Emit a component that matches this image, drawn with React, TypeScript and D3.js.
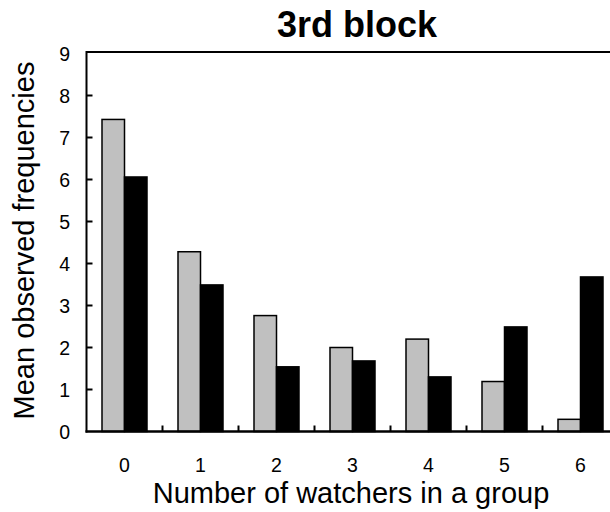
import React from "react";
import * as d3 from "d3";

const categories = ["0", "1", "2", "3", "4", "5", "6"];
const seriesNames = ["gray", "black"];
const grayValues = [7.43, 4.28, 2.76, 2.0, 2.2, 1.19, 0.29];
const blackValues = [6.06, 3.49, 1.54, 1.68, 1.3, 2.49, 3.68];
const yTicks = [0, 1, 2, 3, 4, 5, 6, 7, 8, 9];
const title = "3rd block";
const xLabel = "Number of watchers in a group";
const yLabel = "Mean observed frequencies";

const W = 610;
const H = 512;
const left = 86.5;
const top = 53.5;
const bottom = 431.5;
const groupW = 76;
const font = "'Liberation Sans', Arial, Helvetica, sans-serif";

export default function App() {
  const x = d3
    .scaleBand<string>()
    .domain(categories)
    .range([left, left + groupW * categories.length])
    .padding(0);
  const x1 = d3.scaleBand<string>().domain(seriesNames).range([15.5, 60.5]).padding(0);
  const y = d3.scaleLinear().domain([0, 9]).range([bottom, top]);
  const colors: Record<string, string> = { gray: "#c0c0c0", black: "#000000" };
  const data = categories.map((c, i) => ({ c, gray: grayValues[i], black: blackValues[i] }));

  return (
    <svg width={W} height={H} style={{ position: "absolute", left: 0, top: 0 }}>
      <rect x={0} y={0} width={W} height={H} fill="#fff" />
      {data.map((d) =>
        seriesNames.map((s) => {
          const v = (d as any)[s] as number;
          return (
            <rect
              key={d.c + s}
              x={(x(d.c) as number) + (x1(s) as number)}
              y={y(v)}
              width={x1.bandwidth()}
              height={y(0) - y(v)}
              fill={colors[s]}
              stroke="#000"
              strokeWidth={1.5}
            />
          );
        })
      )}
      {/* frame */}
      <line x1={left} x2={W} y1={52} y2={52} stroke="#000" strokeWidth={2} />
      <line x1={left} x2={left} y1={51} y2={bottom + 1} stroke="#000" strokeWidth={2} />
      <line x1={left - 1} x2={W} y1={bottom} y2={bottom} stroke="#000" strokeWidth={2.5} />
      {/* y ticks */}
      {yTicks.map((t) => (
        <g key={t}>
          {t > 0 && t < 9 && (
            <line x1={left} x2={left + 6} y1={y(t)} y2={y(t)} stroke="#000" strokeWidth={2} />
          )}
          <text
            x={70}
            y={y(t)}
            dy="0.36em"
            textAnchor="end"
            fontFamily={font}
            fontSize={19.5}
            fill="#000"
          >
            {t}
          </text>
        </g>
      ))}
      {/* x ticks between groups */}
      {categories.slice(1).map((c) => (
        <line
          key={"xt" + c}
          x1={x(c) as number}
          x2={x(c) as number}
          y1={bottom}
          y2={bottom - 6}
          stroke="#000"
          strokeWidth={2}
        />
      ))}
      {categories.map((c) => (
        <text
          key={"xl" + c}
          x={(x(c) as number) + x.bandwidth() / 2}
          y={471.5}
          textAnchor="middle"
          fontFamily={font}
          fontSize={19.5}
          fill="#000"
        >
          {c}
        </text>
      ))}
      <text
        x={357}
        y={37}
        textAnchor="middle"
        fontFamily={font}
        fontSize={36}
        fontWeight="bold"
        fill="#000"
      >
        {title}
      </text>
      <text
        x={351}
        y={502.5}
        textAnchor="middle"
        fontFamily={font}
        fontSize={29}
        fill="#000"
      >
        {xLabel}
      </text>
      <text
        transform={`translate(33.5,240.5) rotate(-90)`}
        textAnchor="middle"
        fontFamily={font}
        fontSize={29}
        fill="#000"
      >
        {yLabel}
      </text>
    </svg>
  );
}
